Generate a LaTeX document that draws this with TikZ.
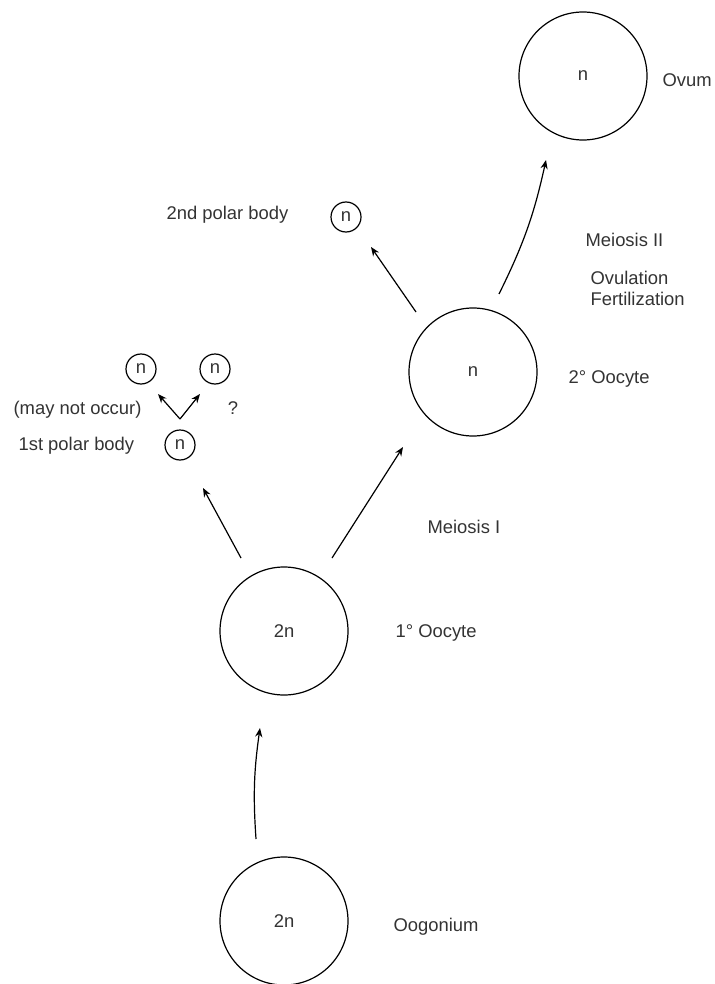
\documentclass[tikz,border=0pt]{standalone}
\usepackage{fontspec}
\setmainfont{Liberation Sans}
\usepackage{tikz}
\usetikzlibrary{arrows.meta, positioning}

\begin{document}
\begin{tikzpicture}[x=0.5pt, y=-0.5pt, >={Stealth[length=4.5pt, width=3.6pt]},
        line width=0.6pt, font=\fontsize{9.2}{11}\selectfont,
        cell/.style={circle, draw, minimum size=64pt, inner sep=0pt, text=black!80},
        body/.style={circle, draw, minimum size=15pt, inner sep=0pt, text=black!80},
        lbl/.style={anchor=west, inner sep=0pt, text=black!80}]

        \useasboundingbox (0,0) rectangle (715,984);

        % cells
        \node[cell] (ovum) at (583,76) {n};
        \node[cell] (oo2) at (473,372) {n};
        \node[cell] (oo1) at (284,631) {2n};
        \node[cell] (oog) at (284,921) {2n};

        % polar bodies
        \node[body] (pb2) at (346,217) {n};
        \node[body] (pb1) at (180,445) {n};
        \node[body] (pba) at (141,369) {n};
        \node[body] (pbb) at (215,369) {n};

        % labels
        \node[lbl] (lovum) at (662,80) {Ovum};
        \node[lbl] (lpb2) at (166,215) {2nd polar body};
        \node[lbl] (lm2) at (585,240) {Meiosis II};
        \node[lbl] (lov) at (590,278) {Ovulation};
        \node[lbl] (lfe) at (590,299) {Fertilization};
        \node[lbl] (loo2) at (568,379) {2° Oocyte};
        \node[lbl] (lmay) at (13,410) {(may not occur)};
        \node[text=black!80] (lq) at (233,408) {?};
        \node[lbl] (lpb1) at (18,446) {1st polar body};
        \node[lbl] (lm1) at (427,527) {Meiosis I};
        \node[lbl] (loo1) at (395,633) {1° Oocyte};
        \node[lbl] (loog) at (393,927) {Oogonium};

        % arrow ends
        \coordinate (a1) at (256,839);
        \coordinate (a2) at (260,728);
        \coordinate (b1) at (241,558);
        \coordinate (b2) at (203,488);
        \coordinate (c1) at (332,558);
        \coordinate (c2) at (403,447);
        \coordinate (d1) at (416,312);
        \coordinate (d2) at (371,247);
        \coordinate (e1) at (499,294);
        \coordinate (e2) at (546,160);
        \coordinate (v) at (180,419);
        \coordinate (va) at (158,394);
        \coordinate (vb) at (200,394);

        \path[->]
        (a1) edge [bend left=6] (a2)
        (b1) edge (b2)
        (c1) edge (c2)
        (d1) edge (d2)
        (e1) edge [bend right=7] (e2)
        (v) edge (va)
            edge (vb);

\end{tikzpicture}
\end{document}
